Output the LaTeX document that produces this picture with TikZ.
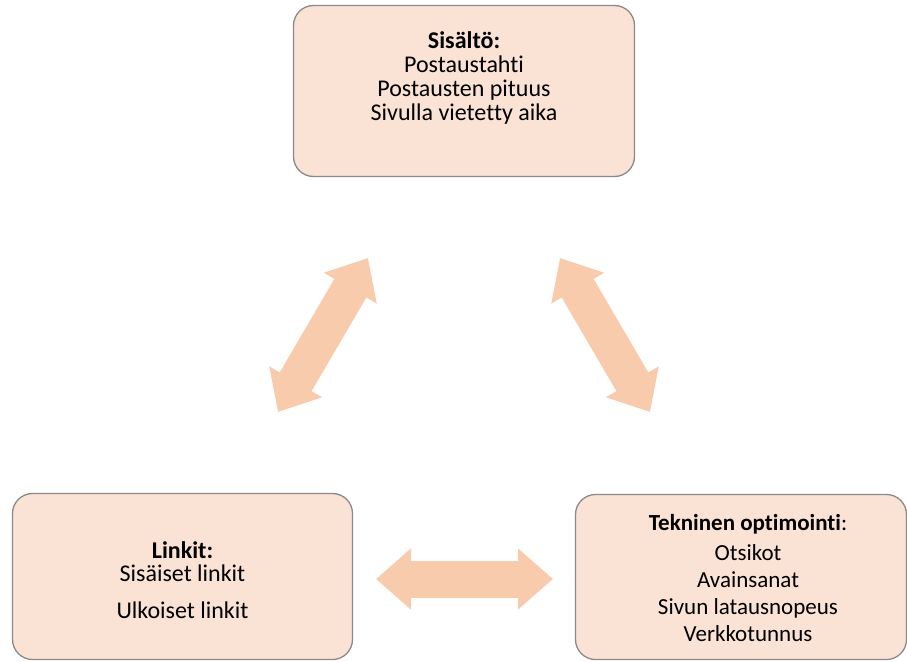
\documentclass[tikz,border=0pt]{standalone}
\usepackage{fontspec}
\setmainfont{Carlito}[Ligatures={NoCommon}]
\usetikzlibrary{arrows.meta}
\definecolor{peach}{HTML}{FAE2D5}
\definecolor{peach dark}{HTML}{F8CBAD}
\definecolor{rim}{HTML}{8A8A8A}
\tikzstyle{box peach}=[draw=rim, fill=peach, line width=1.3pt, rounded corners=20pt, inner sep=0pt]
\tikzstyle{box text}=[align=center, inner sep=0pt, text=black]
\tikzstyle{double block}=[draw=peach dark, line width=37pt, line cap=butt, {Triangle[width=59pt,length=35pt]}-{Triangle[width=59pt,length=35pt]}]

\begin{document}
\begin{tikzpicture}[x=1pt,y=-1pt]
    \useasboundingbox (0,0) rectangle (907,661);

    % Boxes
    \draw (464,91) node[box peach, minimum width=341pt, minimum height=171pt] (content) {};
    \draw (182.5,576.5) node[box peach, minimum width=340pt, minimum height=166pt] (links) {};
    \draw (741,577) node[box peach, minimum width=331pt, minimum height=165pt] (tech) {};

    % Texts
    \draw (464,78) node[box text, font=\fontsize{24}{24}\selectfont] (content text)
        {\textbf{Sisältö:}\\ Postaustahti\\ Postausten pituus\\ Sivulla vietetty aika};
    \draw (182.5,580) node[box text, font=\fontsize{24}{23}\selectfont] (links text)
        {\textbf{Linkit:}\\ Sisäiset linkit\\[14pt] Ulkoiset linkit};
    \draw (748,578) node[box text, font=\fontsize{23}{27}\selectfont] (tech text)
        {\textbf{Tekninen optimointi}:\\[3pt] Otsikot\\ Avainsanat\\ Sivun latausnopeus\\ Verkkotunnus};

    % Arrows
    \coordinate (cl) at (368,258);
    \coordinate (lc) at (278,412);
    \coordinate (ct) at (560,258);
    \coordinate (tc) at (650,412);
    \coordinate (lt) at (376,579);
    \coordinate (tl) at (553,579);
    \draw[double block] (lc) -- (cl);
    \draw[double block] (ct) -- (tc);
    \draw[double block] (lt) -- (tl);

\end{tikzpicture}
\end{document}
